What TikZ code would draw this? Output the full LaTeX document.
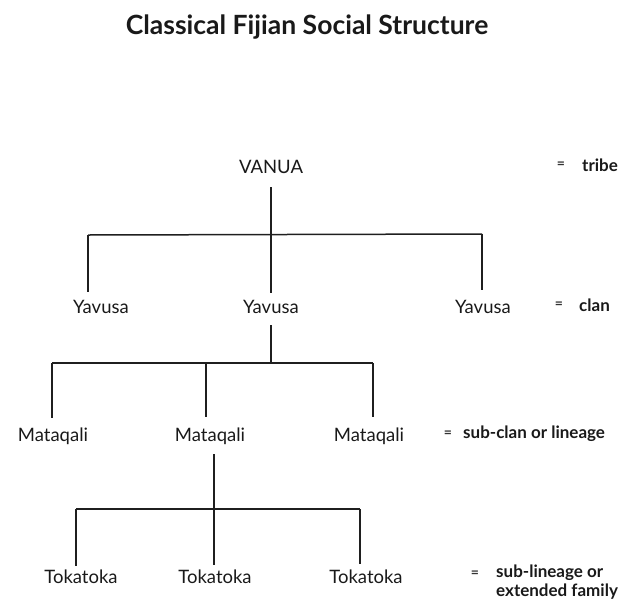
\documentclass[tikz,border=0pt]{standalone}
\usepackage{fontspec}
\setmainfont{Lato}
\usetikzlibrary{calc}
\begin{document}
\begin{tikzpicture}[x=1pt,y=-1pt,
  lbl/.style={font=\fontsize{18.5}{22}\selectfont, inner sep=0pt, anchor=center, text=black!90},
  gloss/.style={font=\bfseries\fontsize{17}{19}\selectfont, inner sep=0pt, anchor=west, align=left, text=black!90},
  eq/.style={font=\bfseries\fontsize{14}{16}\selectfont, inner sep=0pt, text=black!80},
  tree/.style={line width=1.5pt, draw=black!88}]
\useasboundingbox (0,0) rectangle (626,600);
\node[font=\bfseries\fontsize{26.5}{30}\selectfont, inner sep=0pt, text=black!90] (title) at (307,27) {Classical Fijian Social Structure};
% level 1
\node[lbl] (vanua) at (271,167) {VANUA};
\node[eq] (eq1) at (561,165) {=};
\node[gloss] (g1) at (582,165) {tribe};
% level 2
\node[lbl] (y1) at (101,307) {Yavusa};
\node[lbl] (y2) at (271,307) {Yavusa};
\node[lbl] (y3) at (483,307) {Yavusa};
\node[eq] (eq2) at (559,305) {=};
\node[gloss] (g2) at (579,305) {clan};
% level 3
\node[lbl] (m1) at (53,436) {Mataqali};
\node[lbl] (m2) at (210,436) {Mataqali};
\node[lbl] (m3) at (369,436) {Mataqali};
\node[eq] (eq3) at (448,434) {=};
\node[gloss] (g3) at (463,434) {sub-clan or lineage};
% level 4
\node[lbl] (t1) at (81,577) {Tokatoka};
\node[lbl] (t2) at (215,577) {Tokatoka};
\node[lbl] (t3) at (366,577) {Tokatoka};
\node[eq] (eq4) at (475,574) {=};
\node[gloss, anchor=north west] (g4) at (496,565) {sub-lineage or\\extended family};
% bars
\coordinate (b1l) at (88,235); \coordinate (b1m) at (271,235); \coordinate (b1r) at (482,234);
\coordinate (b2l) at (52,363); \coordinate (b2m) at (206,363); \coordinate (b2r) at (373,363);
\coordinate (b3l) at (76,509); \coordinate (b3m) at (214,509); \coordinate (b3r) at (360,509);
% level 1
\draw[tree] ($(vanua.center)+(0,20)$) -- ($(b1m |- y2.center)+(0,-14)$);
\draw[tree] (b1l) -- (b1r);
\draw[tree] (b1l) -- ($(b1l |- y1.center)+(0,-15)$);
\draw[tree] (b1r) -- ($(b1r |- y3.center)+(0,-17)$);
% level 2
\draw[tree] ($(y2.center)+(0,18)$) -- (b2m -| y2.center);
\draw[tree] (b2l) -- (b2r);
\draw[tree] (b2l) -- ($(b2l |- m1.center)+(0,-18)$);
\draw[tree] (b2m) -- ($(b2m |- m2.center)+(0,-19)$);
\draw[tree] (b2r) -- ($(b2r |- m3.center)+(0,-19)$);
% level 3
\draw[tree] ($(b3m |- m2.center)+(0,18)$) -- (b3m);
\draw[tree] (b3l) -- (b3r);
\draw[tree] (b3l) -- ($(b3l |- t1.center)+(0,-11)$);
\draw[tree] (b3m) -- ($(b3m |- t2.center)+(0,-12)$);
\draw[tree] (b3r) -- ($(b3r |- t3.center)+(0,-13)$);
\end{tikzpicture}
\end{document}
